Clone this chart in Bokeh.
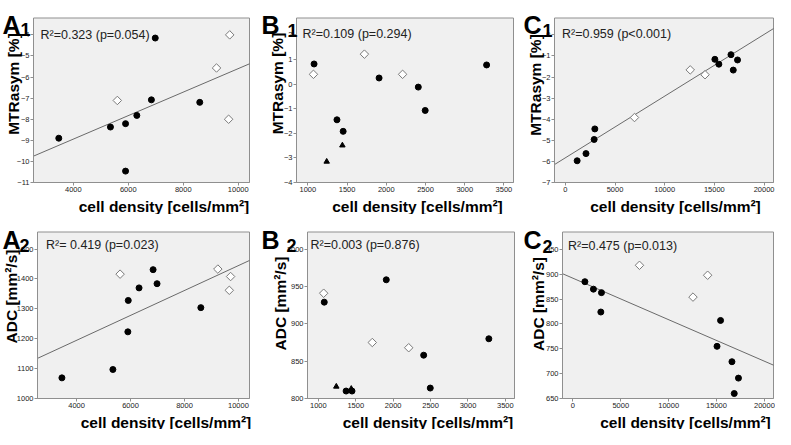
import numpy as np
from bokeh.plotting import figure
from bokeh.models import Range1d, FixedTicker, Label, LinearAxis
from bokeh.layouts import column, row
from bokeh.embed import file_html
from bokeh.resources import INLINE

# ---------------- data ----------------
xlabel = "cell density [cells/mm²]"

# A1 (MTRasym vs cell density)
a1_fx = [3470, 5350, 5900, 5900, 6310, 6840, 6980, 8600]
a1_fy = [-8.90, -8.37, -8.21, -10.46, -7.82, -7.08, -4.15, -7.20]
a1_dx = [5600, 9210, 9690, 9650]
a1_dy = [-7.11, -5.57, -4.00, -8.00]
a1_fit = (0.000557, -11.17)   # slope, intercept
a1_r2 = "R²=0.323  (p=0.054)"

# A2 (ADC vs cell density)
a2_fx = [3455, 5345, 5900, 5915, 6315, 6836, 6982, 8606]
a2_fy = [1069, 1097, 1223, 1328, 1370, 1431, 1384, 1304]
a2_dx = [5612, 9236, 9709, 9661]
a2_dy = [1416, 1433, 1408, 1362]
a2_fit = (0.04167, 1028)
a2_r2 = "R²= 0.419  (p=0.023)"

# B1
b1_fx = [1079, 1371, 1450, 1908, 2408, 2496, 3279]
b1_fy = [0.82, -1.45, -1.92, 0.25, -0.12, -1.07, 0.78]
b1_tx = [1240, 1440]
b1_ty = [-3.15, -2.49]
b1_dx = [1071, 1721, 2208]
b1_dy = [0.40, 1.22, 0.40]
b1_r2 = "R²=0.109  (p=0.294)"

# B2
b2_fx = [1079, 1371, 1450, 1908, 2408, 2496, 3279]
b2_fy = [929, 810, 810, 959, 858, 814, 880]
b2_tx = [1240, 1440]
b2_ty = [816, 813]
b2_dx = [1071, 1721, 2208]
b2_dy = [941, 875, 868]
b2_r2 = "R²=0.003  (p=0.876)"

# C1
c1_fx = [1190, 2080, 2900, 2970, 15050, 15450, 16670, 16900, 17330]
c1_fy = [-5.97, -5.63, -4.96, -4.46, -1.16, -1.39, -0.94, -1.67, -1.19]
c1_dx = [6960, 12570, 14060]
c1_dy = [-3.92, -1.66, -1.89]
c1_fit = (0.0002925, -5.83)
c1_r2 = "R²=0.959  (p<0.001)"

# C2
c2_fx = [1250, 2140, 2980, 2915, 15420, 15050, 16610, 17290, 16850]
c2_fy = [885, 870, 863, 824, 807, 755, 724, 691, 660]
c2_dx = [6950, 12540, 14070]
c2_dy = [918, 854, 898]
c2_fit = (-0.00835, 892)
c2_r2 = "R²=0.475  (p=0.013)"

# axes
a_xr = (2550, 10410); a_xt = [4000, 6000, 8000, 10000]
b_xr = (855, 3622);   b_xt = [1000, 1500, 2000, 2500, 3000, 3500]
c_xr = (-1090, 20950); c_xt = [0, 5000, 10000, 15000, 20000]
a1_yr = (-11, -3.2);  a1_yt = [-11, -10, -9, -8, -7, -6, -5, -4]
b1_yr = (-4, 2.69);   b1_yt = [-4, -3, -2, -1, 0, 1, 2]
c1_yr = (-7, 0.8);    c1_yt = [-7, -6, -5, -4, -3, -2, -1, 0]
a2_yr = (1000, 1557); a2_yt = [1000, 1100, 1200, 1300, 1400, 1500]
b2_yr = (800, 1023);  b2_yt = [800, 850, 900, 950, 1000]
c2_yr = (650, 985);   c2_yt = [650, 700, 750, 800, 850, 900, 950]

FONT = "Liberation Sans"
EDGE = "#8f8f8f"


def panel(W, H, box, xr, xt, yr, yt, ylabel, fx, fy, dx, dy, tx=None, ty=None,
          fit=None, r2="", r2pos=(40, 34), letter="A", digit="1",
          lpos=(2, 24), dpos=(20, 29), xlpos=(160, 206), ylpos=(13, 84)):
    # box = plot-area edges in canvas pixels (left, right, top, bottom)
    L, R, T, B = box
    kx = (xr[1] - xr[0]) / (R - L)
    ky = (yr[1] - yr[0]) / (B - T)
    p = figure(width=W, height=H,
               x_range=Range1d(xr[0] - L * kx, xr[1] + (W - R) * kx),
               y_range=Range1d(yr[0] - (H - B) * ky, yr[1] + T * ky),
               x_axis_type=None, y_axis_type=None, title=None, min_border=0,
               output_backend="svg", toolbar_location=None)
    p.outline_line_color = None
    p.background_fill_color = "white"
    p.border_fill_color = "white"

    # grey plot area
    p.quad(left=[xr[0]], right=[xr[1]], bottom=[yr[0]], top=[yr[1]],
           fill_color="#F0F0F0", line_color=EDGE, line_width=1)

    xa = LinearAxis(fixed_location=yr[0], bounds=xr, ticker=FixedTicker(ticks=xt))
    ya = LinearAxis(fixed_location=xr[0], bounds=yr, ticker=FixedTicker(ticks=yt))
    for ax in (xa, ya):
        ax.major_label_text_font = FONT
        ax.major_label_text_font_size = "7.5px"
        ax.major_label_text_color = "#222222"
        ax.major_label_standoff = 1
        ax.major_tick_in = 0
        ax.major_tick_out = 3
        ax.minor_tick_in = 0
        ax.minor_tick_out = 0
        ax.axis_line_color = EDGE
        ax.major_tick_line_color = EDGE
    p.add_layout(xa, "below")
    p.add_layout(ya, "left")

    if fit is not None:
        xs = np.array(xr, dtype=float)
        p.line(xs, fit[1] + fit[0] * xs, line_color="#6a6a6a", line_width=1)
    p.scatter(fx, fy, marker="circle", size=6, fill_color="black", line_color="black")
    if tx is not None:
        p.scatter(tx, ty, marker="triangle", size=5.5, fill_color="black", line_color="black")
    p.scatter(dx, dy, marker="square", angle=np.pi / 4, size=6,
              fill_color="white", line_color="#7a7a7a", line_width=1)

    def lab(x, y, text, size, bold=False, angle=0.0, align="left",
            baseline="alphabetic", color="black"):
        p.add_layout(Label(x=x, y=H - y, x_units="screen", y_units="screen", text=text,
                           angle=angle, text_font=FONT, text_font_size=size,
                           text_font_style="bold" if bold else "normal",
                           text_align=align, text_baseline=baseline, text_color=color))

    lab(r2pos[0], r2pos[1], r2, "12.5px", color="#222222")
    lab(xlpos[0], xlpos[1], xlabel, "15.5px", bold=True, align="center")
    lab(ylpos[0], ylpos[1], ylabel, "15.5px", bold=True, angle=np.pi / 2,
        align="center", baseline="middle")
    lab(lpos[0], lpos[1], letter, "25px", bold=True)
    lab(dpos[0], dpos[1], digit, "18px", bold=True)
    return p


H1, H2 = 214, 215
pa1 = panel(258, H1, (33, 249, 17.5, 182), a_xr, a_xt, a1_yr, a1_yt, "MTRasym [%]",
            a1_fx, a1_fy, a1_dx, a1_dy, fit=a1_fit, r2=a1_r2, r2pos=(40, 34.5),
            letter="A", digit="1", lpos=(2, 24), dpos=(20, 29),
            xlpos=(163.5, 205.5), ylpos=(13, 83.5))
pb1 = panel(258, H1, (38, 255, 17.5, 182), b_xr, b_xt, b1_yr, b1_yt, "MTRasym [%]",
            b1_fx, b1_fy, b1_dx, b1_dy, tx=b1_tx, ty=b1_ty, r2=b1_r2, r2pos=(44, 33.5),
            letter="B", digit="1", lpos=(3, 24), dpos=(29, 29.5),
            xlpos=(159, 205.5), ylpos=(18.5, 83))
pc1 = panel(259, H1, (38, 257, 17.5, 182), c_xr, c_xt, c1_yr, c1_yt, "MTRasym [%]",
            c1_fx, c1_fy, c1_dx, c1_dy, fit=c1_fit, r2=c1_r2, r2pos=(45.5, 33.5),
            letter="C", digit="1", lpos=(7, 24), dpos=(26, 30),
            xlpos=(159, 205.5), ylpos=(18.5, 84.5))
pa2 = panel(258, H2, (37, 249, 17.5, 184), a_xr, a_xt, a2_yr, a2_yt, "ADC [mm²/s]",
            a2_fx, a2_fy, a2_dx, a2_dy, fit=a2_fit, r2=a2_r2, r2pos=(45.5, 30.5),
            letter="A", digit="2", lpos=(2, 25), dpos=(19, 31),
            xlpos=(165.5, 207.5), ylpos=(11, 82))
pb2 = panel(258, H2, (49, 256, 17.5, 184), b_xr, b_xt, b2_yr, b2_yt, "ADC [mm²/s]",
            b2_fx, b2_fy, b2_dx, b2_dy, tx=b2_tx, ty=b2_ty, r2=b2_r2, r2pos=(52, 30.5),
            letter="B", digit="2", lpos=(3, 25), dpos=(28, 31),
            xlpos=(169.5, 207.5), ylpos=(21.5, 89))
pc2 = panel(259, H2, (46, 257, 17.5, 184), c_xr, c_xt, c2_yr, c2_yt, "ADC [mm²/s]",
            c2_fx, c2_fy, c2_dx, c2_dy, fit=c2_fit, r2=c2_r2, r2pos=(51.5, 31),
            letter="C", digit="2", lpos=(7, 25.5), dpos=(26, 31.5),
            xlpos=(169, 207.5), ylpos=(22, 89.5))

layout = column(row(pa1, pb1, pc1), row(pa2, pb2, pc2))
open("out.html", "w").write(file_html(layout, INLINE))
